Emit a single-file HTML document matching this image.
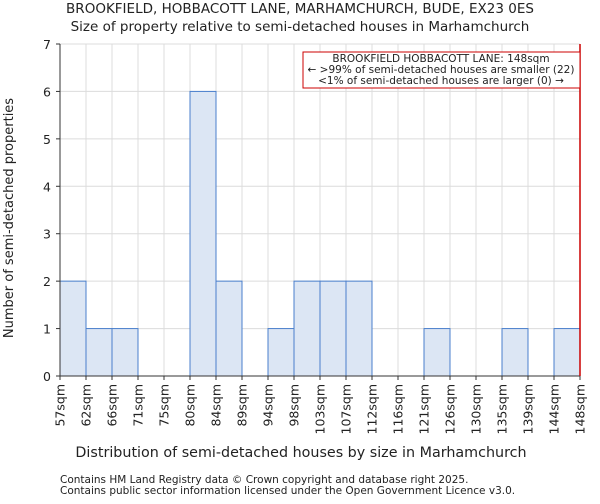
<!DOCTYPE html>
<html><head><meta charset="utf-8"><style>
body{margin:0;background:#fff;font-family:"DejaVu Sans","Liberation Sans",sans-serif;}
svg text{font-family:"DejaVu Sans","Liberation Sans",sans-serif;fill:#222;}
</style></head><body>
<svg id="c" width="600" height="500" xmlns="http://www.w3.org/2000/svg">
<text x="300" y="13" text-anchor="middle" font-size="13.5">BROOKFIELD, HOBBACOTT LANE, MARHAMCHURCH, BUDE, EX23 0ES</text>
<text x="300" y="31" text-anchor="middle" font-size="13.5">Size of property relative to semi-detached houses in Marhamchurch</text>
<g id="grid"></g><g id="bars"></g><g id="axes"></g>
<text x="301" y="457" text-anchor="middle" font-size="14.3">Distribution of semi-detached houses by size in Marhamchurch</text>
<text transform="translate(13,218) rotate(-90)" text-anchor="middle" font-size="13">Number of semi-detached properties</text>
<text x="60" y="483" font-size="10.5">Contains HM Land Registry data © Crown copyright and database right 2025.</text>
<text x="60" y="494" font-size="10.5">Contains public sector information licensed under the Open Government Licence v3.0.</text>
</svg>
<script>
const labels=["57sqm","62sqm","66sqm","71sqm","75sqm","80sqm","84sqm","89sqm","94sqm","98sqm","103sqm","107sqm","112sqm","116sqm","121sqm","126sqm","130sqm","135sqm","139sqm","144sqm","148sqm"];
const counts=[2,1,1,0,0,6,2,0,1,2,2,2,0,0,1,0,0,1,0,1];
const yTicks=[0,1,2,3,4,5,6,7];
const markerIndex=20;
const NS="http://www.w3.org/2000/svg";
const L=60,R=580,T=44,B=376,yMax=7;
const bw=(R-L)/counts.length;
const xs=i=>L+i*bw, ys=v=>B-v/yMax*(B-T);
function mk(tag,attrs,parent){const e=document.createElementNS(NS,tag);for(const k in attrs)e.setAttribute(k,attrs[k]);parent.appendChild(e);return e;}
const grid=document.getElementById('grid'),bars=document.getElementById('bars'),axes=document.getElementById('axes');
yTicks.forEach(v=>{const l=mk('line',{x1:L,x2:R,y1:ys(v),y2:ys(v),stroke:'#dcdcdc','stroke-width':1},grid);


const t=mk('text',{x:L-9,y:ys(v)+5,'text-anchor':'end','font-size':12.5},axes);t.textContent=v;


mk('line',{x1:L-4,x2:L,y1:ys(v),y2:ys(v),stroke:'#333'},axes);});
labels.forEach((s,i)=>{const x=xs(i);const g=mk('line',{x1:x,x2:x,y1:T,y2:B,stroke:'#dcdcdc'},grid);


mk('line',{x1:x,x2:x,y1:B,y2:B+4,stroke:'#333'},axes);
const t=mk('text',{transform:`translate(${x+4.5},${B+8}) rotate(-90)`,'text-anchor':'end','font-size':12.5},axes);t.textContent=s;

});
counts.forEach((c,i)=>{if(!c)return;const r=mk('rect',{x:xs(i),y:ys(c),width:bw,height:B-ys(c),fill:'#dce6f4',stroke:'#4a7fcc','stroke-width':1},bars);

});
mk('line',{x1:L,x2:L,y1:T,y2:B,stroke:'#333'},axes);
mk('line',{x1:L,x2:R,y1:B,y2:B,stroke:'#333'},axes);
const mx=xs(markerIndex);
const ml=mk('line',{x1:mx,x2:mx,y1:T,y2:B,stroke:'#c00','stroke-width':1.5},axes);


const box=mk('rect',{x:303,y:52,width:mx-303,height:36,fill:'#fff',stroke:'#c00','stroke-width':1},axes);


["BROOKFIELD HOBBACOTT LANE: 148sqm","← >99% of semi-detached houses are smaller (22)","<1% of semi-detached houses are larger (0) →"].forEach((s,k)=>{
const t=mk('text',{x:441,y:62+k*11,'text-anchor':'middle','font-size':10.5},axes);t.textContent=s;

});
</script>
</body></html>
